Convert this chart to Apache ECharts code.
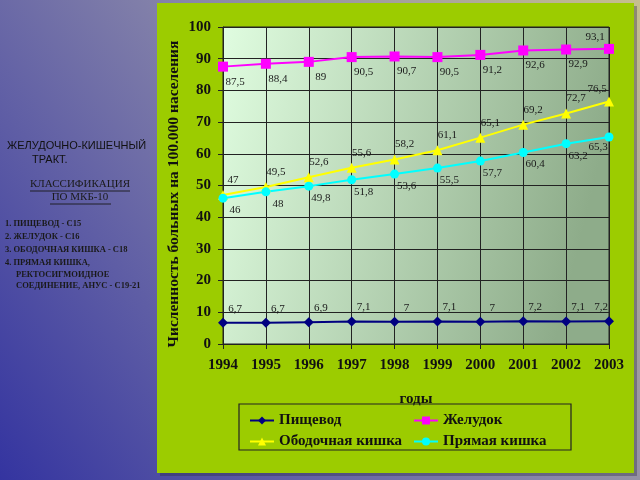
<!DOCTYPE html>
<html><head><meta charset="utf-8">
<script src="https://cdn.jsdelivr.net/npm/echarts@6/dist/echarts.min.js"></script>
<style>html,body{margin:0;padding:0;}#c{width:640px;height:480px;}</style>
</head><body><div id="c"></div>
<script>
const years = ['1994','1995','1996','1997','1998','1999','2000','2001','2002','2003'];
const esophagus = [6.7, 6.7, 6.9, 7.1, 7, 7.1, 7, 7.2, 7.1, 7.2];
const stomach = [87.5, 88.4, 89, 90.5, 90.7, 90.5, 91.2, 92.6, 92.9, 93.1];
const colon = [47, 49.5, 52.6, 55.6, 58.2, 61.1, 65.1, 69.2, 72.7, 76.5];
const rectum = [46, 48, 49.8, 51.8, 53.6, 55.5, 57.7, 60.4, 63.2, 65.3];
const seriesNames = ['Пищевод', 'Желудок', 'Ободочная кишка', 'Прямая кишка'];
const yTicks = {min: 0, max: 100, interval: 10};
const yTitle = 'Численность больных на 100.000 населения';

const serif = '"Liberation Serif", "Times New Roman", serif';
const sans = '"Liberation Sans", Arial, sans-serif';
const fmt = v => String(v).replace('.', ',');

function mkData(values, off, lastOff) {
  return values.map((v, i) => ({
    value: v,
    label: {offset: i === values.length - 1 ? lastOff : off}
  }));
}
function mkSeries(name, values, color, symbol, size, off, lastOff) {
  return {
    name, type: 'line', data: mkData(values, off, lastOff),
    symbol, symbolSize: size,
    itemStyle: {color: color},
    lineStyle: {color: color, width: 2},
    label: {show: true, position: 'inside', align: 'center', verticalAlign: 'middle',
      formatter: p => fmt(p.value), color: '#1a1a1a', fontFamily: serif, fontSize: 11},
    emphasis: {disabled: true}, z: 3
  };
}

const chart = echarts.init(document.getElementById('c'));
const listText = [
  {t: '1. ПИЩЕВОД - С15', x: 5, y: 224},
  {t: '2. ЖЕЛУДОК - С16', x: 5, y: 237},
  {t: '3. ОБОДОЧНАЯ КИШКА - С18', x: 5, y: 250},
  {t: '4. ПРЯМАЯ КИШКА,', x: 5, y: 263},
  {t: 'РЕКТОСИГМОИДНОЕ', x: 16, y: 275},
  {t: 'СОЕДИНЕНИЕ, АНУС - С19-21', x: 16, y: 286}
];
chart.setOption({
  animation: false,
  backgroundColor: new echarts.graphic.LinearGradient(1, 0, 0, 1, [
    {offset: 0, color: '#c6bf8e'}, {offset: 0.45, color: '#8886aa'}, {offset: 1, color: '#3434a0'}
  ]),
  graphic: [
    {type: 'rect', shape: {x: 160, y: 6, width: 477, height: 470}, style: {fill: 'rgba(40,40,60,0.35)'}, z: -10},
    {type: 'rect', shape: {x: 157, y: 3, width: 477, height: 470}, style: {fill: '#9ccc00'}, z: -9},
    {type: 'rect', shape: {x: 239, y: 404, width: 332, height: 46}, style: {fill: 'none', stroke: '#222', lineWidth: 1.2}, z: 5},
    {type: 'text', x: 174, y: 194, rotation: Math.PI / 2,
      style: {text: yTitle, font: 'bold 15.5px ' + serif, fill: '#111', align: 'center', verticalAlign: 'middle'}},
    {type: 'text', x: 7, y: 140, style: {text: 'ЖЕЛУДОЧНО-КИШЕЧНЫЙ', font: '11px ' + sans, fill: '#111'}},
    {type: 'text', x: 32, y: 154, style: {text: 'ТРАКТ.', font: '11px ' + sans, fill: '#111'}},
    {type: 'text', x: 80, y: 179, style: {text: 'КЛАССИФИКАЦИЯ', font: '11px ' + serif, fill: '#1a1a1a', align: 'center'}},
    {type: 'line', shape: {x1: 30, y1: 191, x2: 130, y2: 191}, style: {stroke: '#1a1a1a', lineWidth: 0.9}},
    {type: 'text', x: 80, y: 192, style: {text: 'ПО МКБ-10', font: '11px ' + serif, fill: '#1a1a1a', align: 'center'}},
    {type: 'line', shape: {x1: 50, y1: 204, x2: 111, y2: 204}, style: {stroke: '#1a1a1a', lineWidth: 0.9}},
    ...listText.map(o => ({type: 'text', x: o.x, y: o.y - 5, style: {text: o.t, font: 'bold 8.5px ' + serif, fill: '#1a1a1a'}}))
  ],
  grid: {left: 223, right: 31, top: 27, bottom: 136, show: true,
    backgroundColor: new echarts.graphic.LinearGradient(0, 0, 1, 0.3, [
      {offset: 0, color: '#e0fde0'}, {offset: 1, color: '#8eac8a'}
    ]), borderColor: '#222', borderWidth: 1},
  legend: [
    {data: [seriesNames[0], seriesNames[2]], left: 244, top: 408, orient: 'vertical', itemGap: 6,
      itemWidth: 24, itemHeight: 10, textStyle: {fontFamily: serif, fontSize: 15, fontWeight: 'bold', color: '#111'}},
    {data: [seriesNames[1], seriesNames[3]], left: 408, top: 408, orient: 'vertical', itemGap: 6,
      itemWidth: 24, itemHeight: 10, textStyle: {fontFamily: serif, fontSize: 15, fontWeight: 'bold', color: '#111'}}
  ],
  xAxis: {
    type: 'category', data: years, boundaryGap: false,
    name: 'годы', nameLocation: 'middle', nameGap: 48,
    nameTextStyle: {fontFamily: serif, fontSize: 15, fontWeight: 'bold', color: '#111'},
    axisLine: {lineStyle: {color: '#222', width: 1}},
    axisTick: {show: true, length: 5, lineStyle: {color: '#222'}},
    axisLabel: {fontFamily: serif, fontSize: 15, fontWeight: 'bold', color: '#111', margin: 14},
    splitLine: {show: true, lineStyle: {color: '#222', width: 1}}
  },
  yAxis: {
    type: 'value', min: yTicks.min, max: yTicks.max, interval: yTicks.interval,
    axisLine: {show: true, lineStyle: {color: '#222', width: 1}},
    axisTick: {show: true, length: 5, lineStyle: {color: '#222'}},
    axisLabel: {fontFamily: serif, fontSize: 15, fontWeight: 'bold', color: '#111', margin: 12},
    splitLine: {show: true, lineStyle: {color: '#222', width: 1}}
  },
  series: [
    mkSeries(seriesNames[0], esophagus, '#000080', 'diamond', 10, [12, -14], [-8, -14]),
    mkSeries(seriesNames[1], stomach, '#ff00ff', 'rect', 10, [12, 15], [-14, -12]),
    mkSeries(seriesNames[2], colon, '#ffff00', 'triangle', 10, [10, -15], [-12, -12]),
    mkSeries(seriesNames[3], rectum, '#00ffff', 'circle', 9, [12, 12], [-11, 10])
  ]
});
</script></body></html>
